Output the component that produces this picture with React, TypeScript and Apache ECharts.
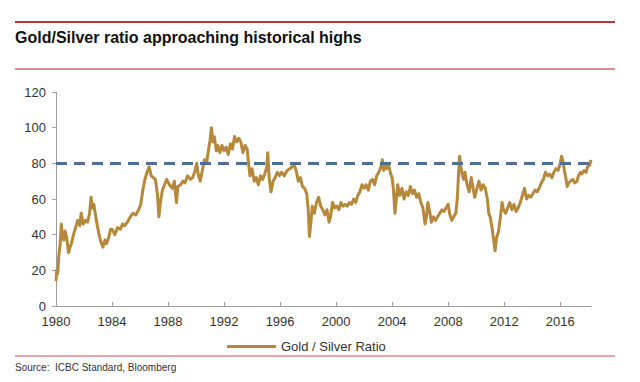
import React, { useEffect, useRef } from "react";
import * as echarts from "echarts";

const years: number[] = [
  1980.0, 1980.05, 1980.12, 1980.2, 1980.3, 1980.38, 1980.45, 1980.55, 1980.65, 1980.75, 1980.9,
  1981.0, 1981.1, 1981.25, 1981.4, 1981.55, 1981.7, 1981.8, 1981.95,
  1982.1, 1982.25, 1982.4, 1982.5, 1982.6, 1982.7, 1982.8, 1982.95,
  1983.05, 1983.2, 1983.35, 1983.5, 1983.6, 1983.75, 1983.9,
  1984.0, 1984.2, 1984.4, 1984.6, 1984.75, 1984.9,
  1985.1, 1985.3, 1985.5, 1985.7, 1985.9,
  1986.05, 1986.2, 1986.35, 1986.5, 1986.65, 1986.8, 1986.95,
  1987.1, 1987.25, 1987.35, 1987.45, 1987.6, 1987.75, 1987.9,
  1988.1, 1988.3, 1988.45, 1988.6, 1988.7, 1988.9,
  1989.05, 1989.2, 1989.4, 1989.6, 1989.75, 1989.9,
  1990.05, 1990.15, 1990.3, 1990.45, 1990.6, 1990.75, 1990.9,
  1991.0, 1991.1, 1991.2, 1991.3, 1991.45, 1991.55, 1991.7, 1991.85,
  1992.0, 1992.15, 1992.3, 1992.45, 1992.6, 1992.75, 1992.9,
  1993.05, 1993.2, 1993.35, 1993.5, 1993.65, 1993.75, 1993.85,
  1994.0, 1994.15, 1994.3, 1994.45, 1994.6, 1994.75, 1994.9,
  1995.05, 1995.12, 1995.22, 1995.35, 1995.5, 1995.65, 1995.8, 1995.95,
  1996.1, 1996.3, 1996.5, 1996.7, 1996.85,
  1997.0, 1997.15, 1997.3, 1997.45, 1997.6, 1997.75, 1997.9,
  1998.0, 1998.1, 1998.2, 1998.3, 1998.45, 1998.6, 1998.75, 1998.9,
  1999.05, 1999.2, 1999.35, 1999.5, 1999.6, 1999.75, 1999.9,
  2000.05, 2000.2, 2000.35, 2000.5, 2000.65, 2000.8, 2000.95,
  2001.1, 2001.25, 2001.4, 2001.55, 2001.7, 2001.85,
  2002.0, 2002.15, 2002.3, 2002.45, 2002.6, 2002.75, 2002.9,
  2003.05, 2003.2, 2003.3, 2003.4, 2003.5, 2003.6, 2003.75, 2003.9,
  2004.0, 2004.1, 2004.2, 2004.3, 2004.4, 2004.55, 2004.7, 2004.85,
  2005.0, 2005.15, 2005.3, 2005.45, 2005.6, 2005.75, 2005.9,
  2006.05, 2006.2, 2006.35, 2006.45, 2006.55, 2006.7, 2006.8, 2006.95,
  2007.1, 2007.25, 2007.4, 2007.55, 2007.7, 2007.85,
  2008.0, 2008.1, 2008.25, 2008.4, 2008.55, 2008.65, 2008.75, 2008.82, 2008.9,
  2009.0, 2009.1, 2009.2, 2009.35, 2009.5, 2009.65, 2009.8, 2009.9,
  2010.05, 2010.2, 2010.35, 2010.5, 2010.65, 2010.8, 2010.9,
  2011.0, 2011.15, 2011.3, 2011.35, 2011.45, 2011.6, 2011.7, 2011.85, 2011.95,
  2012.1, 2012.25, 2012.4, 2012.55, 2012.7, 2012.85,
  2013.0, 2013.15, 2013.3, 2013.45, 2013.6, 2013.75, 2013.9,
  2014.05, 2014.2, 2014.35, 2014.5, 2014.65, 2014.8, 2014.95,
  2015.1, 2015.25, 2015.4, 2015.55, 2015.7, 2015.85,
  2016.0, 2016.1, 2016.2, 2016.3, 2016.4, 2016.5, 2016.6, 2016.75, 2016.9,
  2017.05, 2017.2, 2017.3, 2017.45, 2017.55, 2017.7, 2017.85, 2017.95,
  2018.1, 2018.2,
];

const ratio: number[] = [
  14, 20, 18, 28, 35, 46, 40, 37, 42, 39, 30,
  33, 35, 40, 44, 48, 45, 52, 46,
  48, 47, 52, 61, 55, 57, 52, 45,
  41, 36, 33, 37, 35, 38, 43,
  43, 40, 44, 43, 46, 45,
  47, 50, 52, 51, 54,
  57, 65, 71, 75, 78, 73, 72,
  71, 62, 50, 58, 65, 68, 71,
  68, 66, 70, 58, 67, 68,
  70, 69, 73, 71, 72, 75,
  80, 74, 70, 76, 82, 80, 88,
  93, 100, 92, 95, 87, 90, 86, 90,
  87, 89, 85, 91, 88, 95, 92,
  94, 92, 86, 90, 88, 80, 73,
  77, 70, 72, 68, 73, 71, 74,
  78, 86, 72, 64, 70, 72, 75, 73,
  75, 73, 76, 77, 78,
  79, 76, 70, 72, 67, 66, 63,
  55, 39, 47, 56, 52, 58, 61, 56,
  54, 51, 54, 47, 50, 58, 55,
  56, 54, 58, 56, 57, 56, 58,
  57, 60, 58, 62, 64, 68,
  66, 68, 65, 70, 71, 68, 73,
  75, 78, 82, 76, 80, 77, 79, 74,
  72, 65, 52, 60, 68, 62, 66, 60,
  64, 62, 67, 63, 65, 61, 63,
  58, 55, 46, 50, 58, 52, 47, 50,
  48, 50, 52, 54, 53, 55,
  57, 52, 48, 50, 52, 60, 75, 84, 78,
  74, 71, 75, 68, 64, 72, 65, 61,
  66, 70, 65, 68, 66, 60, 52,
  50, 43, 34, 31, 38, 42, 48, 58, 54,
  52, 55, 58, 54, 57, 53,
  55, 58, 62, 66, 60, 62, 61,
  63, 65, 64, 66, 69, 71, 75,
  73, 74, 72, 75, 77, 76,
  80, 84, 81, 76, 72, 67, 69, 70, 71,
  69, 70, 73, 75, 74, 76, 75, 78,
  79, 82,
];

const xTickYears: number[] = [1980, 1984, 1988, 1992, 1996, 2000, 2004, 2008, 2012, 2016];
const referenceLevel = 80;
const seriesName = "Gold / Silver Ratio";
const titleText = "Gold/Silver ratio approaching historical highs";
const sourceText = "Source:  ICBC Standard, Bloomberg";

export default function App() {
  const ref = useRef<HTMLDivElement>(null);
  useEffect(() => {
    if (!ref.current) return;
    const chart = echarts.init(ref.current, undefined, { renderer: "svg" });
    const data = years.map((y, i) => [y, ratio[i]]);
    const narrowFont = "'Liberation Sans Narrow', 'Liberation Sans', Arial, sans-serif";
    const axisFont = "'Liberation Sans', Arial, sans-serif";
    chart.setOption({
      animation: false,
      backgroundColor: "#ffffff",
      grid: { left: 56, right: 49, top: 92, bottom: 76, containLabel: false },
      xAxis: {
        type: "value",
        min: 1980,
        max: 2018.2,
        interval: 4,
        splitLine: { show: false },
        axisLine: { show: true, onZero: false, lineStyle: { color: "#a0a0a0", width: 1 } },
        axisTick: {
          show: true,
          inside: true,
          length: 4,
          customValues: xTickYears,
          lineStyle: { color: "#a0a0a0" },
        },
        axisLabel: {
          customValues: xTickYears,
          formatter: (v: number) => String(Math.round(v)),
          color: "#333",
          fontSize: 13,
          margin: 9,
          fontFamily: axisFont,
        },
      },
      yAxis: {
        type: "value",
        min: 0,
        max: 120,
        interval: 20,
        splitLine: { show: false },
        axisLine: { show: true, lineStyle: { color: "#a0a0a0", width: 1 } },
        axisTick: { show: true, length: 4, lineStyle: { color: "#a0a0a0" } },
        axisLabel: {
          color: "#333",
          fontSize: 13,
          margin: 10,
          fontFamily: axisFont,
        },
      },
      legend: {
        data: [{ name: seriesName, icon: "rect" }],
        left: 227,
        top: 340,
        itemWidth: 49,
        itemHeight: 3,
        itemGap: 6,
        textStyle: { color: "#333", fontSize: 13, fontFamily: axisFont },
        padding: 0,
      },
      series: [
        {
          name: seriesName,
          type: "line",
          data,
          showSymbol: false,
          symbol: "none",
          lineStyle: { color: "#b5883c", width: 3, join: "round" },
          itemStyle: { color: "#b5883c" },
          markLine: {
            silent: true,
            symbol: "none",
            label: { show: false },
            lineStyle: { color: "#4f6e96", width: 3, type: [11, 7] },
            data: [{ yAxis: referenceLevel }],
          },
          z: 2,
        },
      ],
      graphic: [
        { type: "line", shape: { x1: 15, y1: 22, x2: 615, y2: 22 }, style: { stroke: "#c0323c", lineWidth: 2.2 } },
        {
          type: "text",
          left: 15,
          top: 29,
          style: {
            text: titleText,
            fill: "#111",
            font: "bold 16px " + narrowFont,
          },
        },
        { type: "line", shape: { x1: 15, y1: 69, x2: 615, y2: 69 }, style: { stroke: "#d9666e", lineWidth: 1.6 } },
        { type: "line", shape: { x1: 15, y1: 356, x2: 615, y2: 356 }, style: { stroke: "#e0868c", lineWidth: 1.3 } },
        {
          type: "text",
          left: 15,
          top: 362,
          style: {
            text: sourceText,
            fill: "#333",
            font: "10px " + narrowFont,
          },
        },
      ],
    });
    return () => chart.dispose();
  }, []);
  return <div ref={ref} style={{ width: 640, height: 382, position: "absolute", left: 0, top: 0 }} />;
}
